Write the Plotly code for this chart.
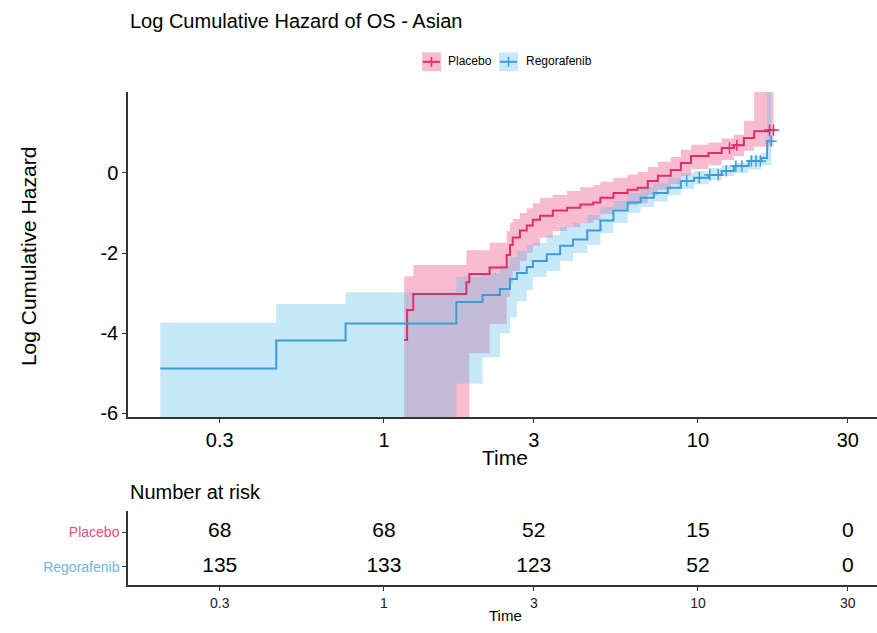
import plotly.graph_objects as go

# ---------------- data ----------------
placebo_time = [1.16, 1.185, 1.24, 1.83, 1.87, 2.17, 2.46, 2.52, 2.57, 2.71, 2.85, 2.98, 3.14, 3.45, 3.83,
                4.22, 4.64, 4.89, 5.38, 5.97, 6.42, 6.92, 7.45, 8.19, 8.82, 9.50, 10.8, 11.9, 13.0, 14.0,
                15.1, 16.8, 17.4]
placebo_lch = [-4.17, -3.42, -3.02, -2.73, -2.52, -2.36, -2.05, -1.80, -1.61, -1.44, -1.31, -1.17, -1.07,
               -0.94, -0.87, -0.79, -0.74, -0.62, -0.50, -0.42, -0.37, -0.20, -0.07, 0.07, 0.25, 0.42,
               0.50, 0.62, 0.69, 0.87, 1.04, 1.07, 1.07]
placebo_upper = [-2.58, -2.58, -2.30, -1.93, -1.93, -1.74, -1.45, -1.25, -1.15, -1.00, -0.88, -0.76, -0.62,
                 -0.55, -0.45, -0.36, -0.30, -0.22, -0.12, -0.04, 0.02, 0.15, 0.28, 0.40, 0.58, 0.70,
                 0.76, 0.86, 0.95, 1.30, 2.5, 2.5, 2.5]
placebo_lower = [-9, -9, -9, -9, -4.5, -3.77, -3.1, -2.75, -2.45, -2.2, -2.0, -1.82, -1.62, -1.45, -1.35,
                 -1.25, -1.18, -1.03, -0.90, -0.80, -0.75, -0.55, -0.42, -0.28, -0.08, 0.10, 0.20, 0.32,
                 0.42, 0.55, 0.65, 0.68, 0.68]

rego_time = [0.194, 0.454, 0.755, 1.70, 2.06, 2.34, 2.52, 2.65, 2.85, 2.98, 3.30, 3.64, 4.00, 4.44, 4.89,
             5.38, 5.97, 6.57, 7.23, 8.01, 8.82, 9.71, 10.8, 11.9, 13.0, 14.5, 15.9, 16.6, 17.1]
rego_lch = [-4.88, -4.18, -3.76, -3.22, -3.05, -2.90, -2.65, -2.50, -2.35, -2.20, -2.03, -1.82, -1.66,
            -1.44, -1.19, -0.94, -0.74, -0.62, -0.50, -0.37, -0.20, -0.12, -0.05, 0.05, 0.17, 0.30, 0.37,
            0.79, 0.79]
rego_upper = [-3.74, -3.27, -2.98, -2.60, -2.50, -2.30, -2.10, -1.95, -1.80, -1.75, -1.55, -1.35, -1.25,
              -1.05, -0.85, -0.70, -0.50, -0.35, -0.25, -0.12, 0.00, 0.05, 0.12, 0.20, 0.25, 0.42, 0.50,
              2.5, 2.5]
rego_lower = [-9, -9, -9, -5.26, -4.6, -4.0, -3.6, -3.2, -2.93, -2.6, -2.45, -2.2, -2.0, -1.8, -1.5,
              -1.25, -1.0, -0.85, -0.72, -0.55, -0.40, -0.28, -0.18, -0.08, 0.0, 0.08, 0.2, 0.2, 0.2]

placebo_censor_time = [12.6, 13.3, 16.9, 17.4]
placebo_censor_lch = [0.62, 0.69, 1.07, 1.07]
rego_censor_time = [9.2, 10.1, 10.9, 11.6, 12.3, 13.2, 13.8, 14.8, 15.3, 15.8, 17.1]
rego_censor_lch = [-0.20, -0.12, -0.05, -0.05, 0.05, 0.17, 0.17, 0.30, 0.30, 0.30, 0.79]

risk_times = [0.3, 1, 3, 10, 30]
risk_placebo = [68, 68, 52, 15, 0]
risk_rego = [135, 133, 123, 52, 0]

x_ticks = [0.3, 1, 3, 10, 30]
x_ticktext = ["0.3", "1", "3", "10", "30"]
y_ticks = [-6, -4, -2, 0]
y_ticktext = ["-6", "-4", "-2", "0"]
groups = ["Placebo", "Regorafenib"]

# ---------------- style ----------------
W, H = 877, 633
RED = "#E22D67"
BLUE = "#3D9BD8"
RED_FILL = "rgba(235,60,120,0.35)"
BLUE_FILL = "rgba(100,190,235,0.36)"
RED_LABEL = "#E0507F"
BLUE_LABEL = "#6AB7E0"
FONT = "Liberation Sans, Arial, sans-serif"
AXC = "#333333"


def px_x(p):
    return p / W


def px_y(p):
    return 1 - p / H


fig = go.Figure()

# confidence bands
fig.add_trace(go.Scatter(x=placebo_time, y=placebo_lower, mode="lines", line=dict(width=0, shape="hv"),
                         showlegend=False, hoverinfo="skip"))
fig.add_trace(go.Scatter(x=placebo_time, y=placebo_upper, mode="lines", line=dict(width=0, shape="hv"),
                         fill="tonexty", fillcolor=RED_FILL, showlegend=False, hoverinfo="skip"))
fig.add_trace(go.Scatter(x=rego_time, y=rego_lower, mode="lines", line=dict(width=0, shape="hv"),
                         showlegend=False, hoverinfo="skip"))
fig.add_trace(go.Scatter(x=rego_time, y=rego_upper, mode="lines", line=dict(width=0, shape="hv"),
                         fill="tonexty", fillcolor=BLUE_FILL, showlegend=False, hoverinfo="skip"))

# step lines
fig.add_trace(go.Scatter(x=placebo_time, y=placebo_lch, mode="lines", name=groups[0],
                         line=dict(color=RED, width=2, shape="hv"), showlegend=False))
fig.add_trace(go.Scatter(x=rego_time, y=rego_lch, mode="lines", name=groups[1],
                         line=dict(color=BLUE, width=2, shape="hv"), showlegend=False))

# censor marks
fig.add_trace(go.Scatter(x=placebo_censor_time, y=placebo_censor_lch, mode="markers",
                         marker=dict(symbol="cross-thin", size=8, line=dict(color=RED, width=1.5)),
                         showlegend=False))
fig.add_trace(go.Scatter(x=rego_censor_time, y=rego_censor_lch, mode="markers",
                         marker=dict(symbol="cross-thin", size=8, line=dict(color=BLUE, width=1.5)),
                         showlegend=False))

# risk table
fig.add_trace(go.Scatter(x=risk_times, y=[2] * len(risk_times), mode="text",
                         text=[str(v) for v in risk_placebo], textfont=dict(size=21, color="black", family=FONT),
                         xaxis="x2", yaxis="y2", showlegend=False, hoverinfo="skip"))
fig.add_trace(go.Scatter(x=risk_times, y=[1] * len(risk_times), mode="text",
                         text=[str(v) for v in risk_rego], textfont=dict(size=21, color="black", family=FONT),
                         xaxis="x2", yaxis="y2", showlegend=False, hoverinfo="skip"))

xr = [-0.815, 1.570]
dom_x = [px_x(128), 1.0]

axis_common = dict(showline=True, linecolor=AXC, linewidth=1.5, ticks="outside", ticklen=4,
                   tickcolor=AXC, tickwidth=1.2, showgrid=False, zeroline=False, mirror=False)

# manual legend (box + line + cross + label), like ggplot's key
legend_shapes = []
legend_annots = []
for (bx, label, lcol, fcol, tx) in [(422, groups[0], RED, RED_FILL, 446),
                                     (499, groups[1], BLUE, BLUE_FILL, 524)]:
    legend_shapes.append(dict(type="rect", xref="paper", yref="paper",
                              x0=px_x(bx), x1=px_x(bx + 19), y0=px_y(72), y1=px_y(53),
                              fillcolor=fcol, line=dict(width=0), layer="above"))
    legend_shapes.append(dict(type="line", xref="paper", yref="paper",
                              x0=px_x(bx + 1), x1=px_x(bx + 18), y0=px_y(62.5), y1=px_y(62.5),
                              line=dict(color=lcol, width=2), layer="above"))
    legend_shapes.append(dict(type="line", xref="paper", yref="paper",
                              x0=px_x(bx + 9.5), x1=px_x(bx + 9.5), y0=px_y(57.5), y1=px_y(67.5),
                              line=dict(color=lcol, width=1.5), layer="above"))
    legend_annots.append(dict(text=label, x=px_x(tx), y=px_y(62), xref="paper", yref="paper",
                              showarrow=False, xanchor="left", yanchor="middle",
                              font=dict(size=12, color="black")))

fig.update_layout(
    width=W, height=H,
    margin=dict(l=0, r=0, t=0, b=0),
    paper_bgcolor="white", plot_bgcolor="white",
    font=dict(family=FONT, color="black"),
    title=dict(text="Log Cumulative Hazard of OS - Asian", x=px_x(130), xanchor="left",
               y=px_y(21), yanchor="middle", font=dict(size=20, color="black", family=FONT)),
    showlegend=False,
    xaxis=dict(type="log", range=xr, domain=dom_x, anchor="y",
               tickvals=x_ticks, ticktext=x_ticktext, tickfont=dict(size=20, color="black"), **axis_common),
    yaxis=dict(range=[-6.1, 2.02], domain=[px_y(422), px_y(93)], anchor="x",
               tickvals=y_ticks, ticktext=y_ticktext, tickfont=dict(size=20, color="black"), **axis_common),
    xaxis2=dict(type="log", range=xr, domain=dom_x, anchor="y2",
                tickvals=x_ticks, ticktext=x_ticktext, tickfont=dict(size=14, color="#222"), **axis_common),
    yaxis2=dict(range=[0.457, 2.6], domain=[px_y(592), px_y(517)], anchor="x2",
                tickvals=[2, 1],
                ticktext=[f"<span style='color:{RED_LABEL}'>Placebo</span>",
                          f"<span style='color:{BLUE_LABEL}'>Regorafenib</span>"],
                tickfont=dict(size=14), **axis_common),
    shapes=legend_shapes,
    annotations=[
        dict(text="Log Cumulative Hazard", x=px_x(28), y=px_y(260), xref="paper", yref="paper",
             showarrow=False, textangle=-90, font=dict(size=21, color="black"),
             xanchor="center", yanchor="middle"),
        dict(text="Time", x=px_x(505), y=px_y(463), xref="paper", yref="paper", showarrow=False,
             font=dict(size=21, color="black"), xanchor="center", yanchor="middle"),
        dict(text="Number at risk", x=px_x(128), y=px_y(498), xref="paper", yref="paper", showarrow=False,
             font=dict(size=20, color="black"), xanchor="left", yanchor="middle"),
        dict(text="Time", x=px_x(505), y=px_y(622), xref="paper", yref="paper", showarrow=False,
             font=dict(size=15, color="black"), xanchor="center", yanchor="middle"),
    ] + legend_annots,
)

fig.write_html("out.html", config={"displayModeBar": False},
               post_script="document.body.style.margin='0';document.body.style.overflow='hidden';")
